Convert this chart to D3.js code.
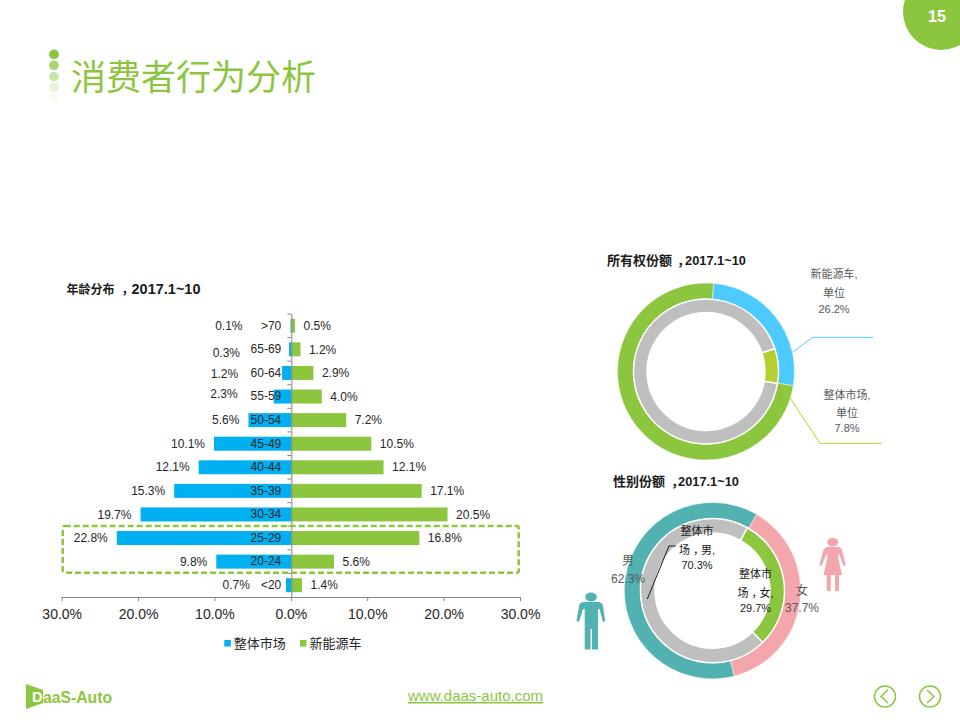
<!DOCTYPE html>
<html>
<head>
<meta charset="utf-8">
<script src="https://cdn.jsdelivr.net/npm/d3@7/dist/d3.min.js"></script>
<style>
  html, body { margin: 0; padding: 0; background: #fff; }
  text { font-family: "Liberation Sans", "Noto Sans CJK SC", sans-serif; }
</style>
</head>
<body>
<svg id="viewport" width="960" height="720"></svg>
<script>
var ages = [">70", "65-69", "60-64", "55-59", "50-54", "45-49", "40-44", "35-39", "30-34", "25-29", "20-24", "<20"];
var market = [0.1, 0.3, 1.2, 2.3, 5.6, 10.1, 12.1, 15.3, 19.7, 22.8, 9.8, 0.7];
var newEnergy = [0.5, 1.2, 2.9, 4.0, 7.2, 10.5, 12.1, 17.1, 20.5, 16.8, 5.6, 1.4];
var axisTicks = [-30, -20, -10, 0, 10, 20, 30];
var seriesNames = ["整体市场", "新能源车"];

var ownerOuter = [26.2, 73.8];
var ownerInner = [7.8, 92.2];
var genderOuter = [37.7, 62.3];
var genderInner = [29.7, 70.3];

var GREEN = "#8CC63F", BLUE = "#00B0F0", GREY = "#BFBFBF", TEXT = "#262626";

var svg = d3.select("#viewport");
var fmt = function(v) { return Math.abs(v).toFixed(1) + "%"; };

// page furniture
svg.append("circle").attr("cx", 941).attr("cy", 12).attr("r", 38).attr("fill", GREEN);
svg.append("text").text("15").attr("x", 937).attr("y", 22)
  .attr("text-anchor", "middle").attr("fill", "#fff")
  .style("font-size", "16px").style("font-weight", "bold");

[[54.3, 1], [65.3, .72], [76.7, .45], [87.3, .2], [98.3, .07]].forEach(function(d) {
  svg.append("ellipse").attr("cx", 54).attr("cy", d[0]).attr("rx", 5).attr("ry", 4.8)
    .attr("fill", GREEN).attr("opacity", d[1]);
});
svg.append("text").text("消费者行为分析").attr("x", 71).attr("y", 90)
  .attr("fill", GREEN).style("font-size", "35px");

svg.append("path").attr("d", "M26,684 L43,690 L43,703 L26,709 Z").attr("fill", GREEN);
svg.append("text").text("D").attr("x", 32).attr("y", 702)
  .attr("fill", "#fff").style("font-size", "14.5px").style("font-weight", "bold");
svg.append("text").text("aaS-Auto").attr("x", 43).attr("y", 702.5)
  .attr("fill", GREEN).style("font-size", "16px").style("font-weight", "bold")
  .attr("textLength", 69).attr("lengthAdjust", "spacingAndGlyphs");

svg.append("text").text("www.daas-auto.com").attr("x", 408).attr("y", 701)
  .attr("fill", GREEN).attr("text-decoration", "underline").style("font-size", "15px");

[[885, "M888,690 L881,696.5 L888,703"], [930, "M927,690 L934,696.5 L927,703"]].forEach(function(d) {
  svg.append("circle").attr("cx", d[0]).attr("cy", 696.5).attr("r", 10.5)
    .attr("fill", "none").attr("stroke", GREEN).attr("stroke-width", 1.5);
  svg.append("path").attr("d", d[1]).attr("fill", "none").attr("stroke", GREEN).attr("stroke-width", 1.5);
});

// chinese part, spaced comma, then the date in its own size
function boldTitle(cn, x, y, cnSize, dateSize, commaDx, squeeze) {
  var t = svg.append("text").attr("x", x).attr("y", y).attr("fill", "#1a1a1a")
    .style("font-weight", "bold");
  t.append("tspan").text(cn).style("font-size", cnSize + "px");
  t.append("tspan").text("，").attr("dx", commaDx)
    .style("font-size", cnSize + "px").style("letter-spacing", squeeze + "px");
  t.append("tspan").text("2017.1~10").style("font-size", dateSize + "px");
}
boldTitle("年龄分布", 66.5, 294, 12, 14.5, 7, -2);
boldTitle("所有权份额", 607, 265, 13, 12.8, 5, -5);
boldTitle("性别份额", 613, 486, 13, 12.8, 6, -6);

// butterfly bars
var zero = 291.3;
var xLeft = d3.scaleLinear().domain([-30, 0]).range([61.7, zero]);
var xRight = d3.scaleLinear().domain([0, 30]).range([zero, 520]);
var x = function(v) { return v < 0 ? xLeft(v) : xRight(v); };
var y = d3.scaleBand().domain(ages).range([314, 597]);
var barH = 14;

var rows = svg.selectAll("g.row").data(ages).enter().append("g").attr("class", "row")
  .attr("transform", function(d) { return "translate(0," + (y(d) + y.bandwidth() / 2) + ")"; });

rows.append("rect")
  .attr("x", function(d, i) { return x(-market[i]); })
  .attr("y", -barH / 2).attr("height", barH)
  .attr("width", function(d, i) { return zero - x(-market[i]); })
  .attr("fill", BLUE);
rows.append("rect")
  .attr("x", zero).attr("y", -barH / 2).attr("height", barH)
  .attr("width", function(d, i) { return x(newEnergy[i]) - zero; })
  .attr("fill", GREEN);

// hand placed in the original where the bar is short
var leftNudge = {">70": [-39, 0], "65-69": [-40, 3], "60-64": [-35, 1], "55-59": [-27, -3], "<20": [-27, 0]};

rows.append("text")
  .text(function(d, i) { return fmt(market[i]); })
  .attr("x", function(d, i) { return x(-market[i]) - 9 + (leftNudge[d] ? leftNudge[d][0] : 0); })
  .attr("y", function(d) { return leftNudge[d] ? leftNudge[d][1] : 0; })
  .attr("dy", ".35em").attr("text-anchor", "end").attr("fill", TEXT).style("font-size", "12px");
rows.append("text")
  .text(function(d, i) { return fmt(newEnergy[i]); })
  .attr("x", function(d, i) { return x(newEnergy[i]) + 8.5; })
  .attr("dy", ".35em").attr("fill", TEXT).style("font-size", "12px");

var xAxis = d3.axisBottom(d3.scaleLinear().domain([-30, 30]).range([61.7, 520]))
  .tickValues(axisTicks).tickFormat(fmt).tickSize(4).tickPadding(8);
var xg = svg.append("g").attr("transform", "translate(0,597)").call(xAxis);
xg.selectAll("text").attr("fill", TEXT).style("font-size", "14px");
xg.selectAll("line, path").attr("stroke", "#868686");
xg.select("path").attr("d", "M61.7,0.5 H520");

var yAxis = d3.axisLeft(y).tickSize(0).tickPadding(10);
var yg = svg.append("g").attr("transform", "translate(" + zero + ",0)").call(yAxis);
yg.selectAll("text").attr("fill", TEXT).style("font-size", "12px");
yg.select("path").attr("stroke", "#868686").attr("d", "M0.5,314 V597");
yg.selectAll("line.band").data(ages).enter().append("line").attr("class", "band")
  .attr("x1", -4).attr("x2", 0)
  .attr("y1", function(d) { return y(d); }).attr("y2", function(d) { return y(d); })
  .attr("stroke", "#868686");

svg.append("rect").attr("x", 62.7).attr("y", 526).attr("width", 456).attr("height", 46.7)
  .attr("rx", 2).attr("fill", "none").attr("stroke", GREEN)
  .attr("stroke-width", 2.5).attr("stroke-dasharray", "6 3");

// legend
[[224.3, BLUE], [300, GREEN]].forEach(function(d, i) {
  svg.append("rect").attr("x", d[0]).attr("y", 640).attr("width", 6.5).attr("height", 6.5).attr("fill", d[1]);
  svg.append("text").text(seriesNames[i]).attr("x", d[0] + 9.5).attr("y", 647.5)
    .attr("fill", TEXT).style("font-size", "13px");
});

// donuts
function ring(cx, cy, inner, outer, start, values, colors, sep) {
  var pie = d3.pie().sort(null)
    .startAngle(start * Math.PI / 180)
    .endAngle((start + 360) * Math.PI / 180);
  var arc = d3.arc().innerRadius(inner).outerRadius(outer);
  svg.append("g").attr("transform", "translate(" + cx + "," + cy + ")")
    .selectAll("path").data(pie(values)).enter().append("path")
    .attr("d", arc)
    .attr("fill", function(d, i) { return colors[i]; })
    .attr("stroke", "#fff").attr("stroke-width", sep);
}
ring(706, 371.5, 72.5, 88.5, 5, ownerOuter, ["#4DCBFF", GREEN], 0.5);
ring(706, 371.5, 59, 72.5, 71.5, ownerInner, ["#B5D02E", GREY], 1.5);
ring(712.5, 590.7, 72, 88.2, 30, genderOuter, ["#F4A6AD", "#52B2B2"], 0.5);
ring(712.5, 590.7, 57.5, 72, 29, genderInner, [GREEN, GREY], 1.5);

function leader(points, color) {
  svg.append("path").attr("d", d3.line()(points)).attr("fill", "none")
    .attr("stroke", color).attr("stroke-width", 1);
}
leader([[792.7, 352.3], [812.7, 337.3], [873.3, 337.3]], "#4DCBFF");
leader([[778.3, 380], [820, 443.3], [881.7, 443.3]], "#B5D02E");
leader([[647.3, 599], [669, 546], [675.7, 546]], "#1a1a1a");

function block(lines, cx, ys, color, size) {
  lines.forEach(function(str, i) {
    var t = svg.append("text").attr("x", cx).attr("y", ys[i]).attr("dy", ".35em")
      .attr("text-anchor", "middle").attr("fill", color).style("font-size", size + "px");
    // the fullwidth comma sits mid box in the original
    var parts = str.split("，");
    t.append("tspan").text(parts[0]);
    if (parts.length > 1) {
      t.append("tspan").text("，").attr("dx", 3).style("letter-spacing", "-3px");
      t.append("tspan").text(parts[1]);
    }
  });
}
block(["新能源车,", "单位", fmt(ownerOuter[0])], 834, [274, 293, 309], "#595959", 11);
block(["整体市场,", "单位", fmt(ownerInner[0])], 847, [395, 413, 428.5], "#595959", 11);
block(["整体市", "场，男,", fmt(genderInner[1])], 697, [531, 550, 565.5], "#1a1a1a", 11);
block(["整体市", "场，女,", fmt(genderInner[0])], 755.5, [574, 593, 608], "#1a1a1a", 11);
block(["男", fmt(genderOuter[1])], 628, [561, 579], "#595959", 12);
block(["女", fmt(genderOuter[0])], 802, [591, 608], "#595959", 12);

// people icons
svg.append("ellipse").attr("cx", 591).attr("cy", 597).attr("rx", 5.8).attr("ry", 4.5).attr("fill", "#52B2B2");
svg.append("path").attr("fill", "#52B2B2")
  .attr("d", "M584,602 L598,602 Q602,602 603,606 L605.3,621 L603,622 L599.5,609 L598,609 L598,649.5 L592,649.5 L592,629 L590.5,629 L590.5,649.5 L584.7,649.5 L584.7,609 L583,609 L579,622 L576.5,621 L579,606 Q580,602 584,602 Z");
svg.append("ellipse").attr("cx", 832.7).attr("cy", 542.3).attr("rx", 5.5).attr("ry", 4.2).attr("fill", "#F4A6AD");
svg.append("path").attr("fill", "#F4A6AD")
  .attr("d", "M828,547 L838,547 Q841,547 842,550 L845.7,565 L843.5,566 L838.5,553 L838,557 L842,575 L839,575 L839,591 L835,591 L835,575 L830.7,575 L830.7,591 L826.7,591 L826.7,575 L823.5,575 L827.5,557 L827,553 L821.5,566 L819.3,565 L823.5,550 Q825,547 828,547 Z");
</script>
</body>
</html>
